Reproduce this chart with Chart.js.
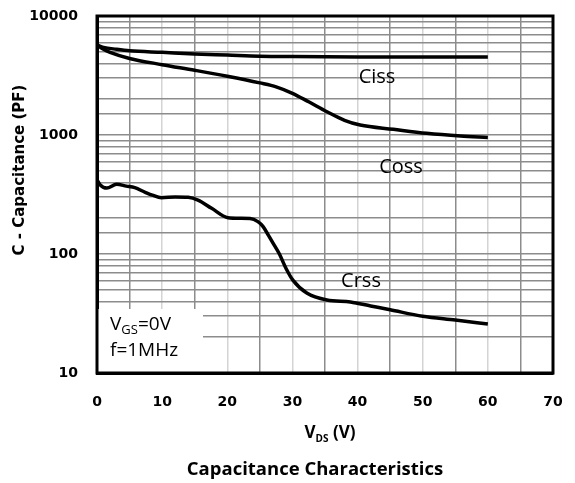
<!DOCTYPE html>
<html>
<head>
<meta charset="utf-8">
<script src="https://cdn.jsdelivr.net/npm/chart.js@4"></script>
<style>
  html, body { margin: 0; padding: 0; background: #fff; }
  #wrap { width: 575px; height: 483px; }
</style>
</head>
<body>
<div id="wrap"><canvas id="capChart" width="575" height="483"></canvas></div>
<script>
// values (VDS in V, capacitance in pF)
const cissV = [0, 1, 3, 5, 10, 15, 20, 25, 30, 35, 40, 50, 60];
const cissC = [5700, 5450, 5250, 5100, 4950, 4800, 4700, 4600, 4560, 4540, 4530, 4520, 4520];

const cossV = [0, 1, 2, 5, 10, 15, 20, 25, 27.5, 30, 32.5, 35.3, 38, 40.4, 45.5, 50.6, 55.8, 60];
const cossC = [5700, 5250, 4950, 4400, 3900, 3500, 3120, 2740, 2540, 2240, 1900, 1570, 1330, 1213, 1117, 1033, 981, 955];

const crssV = [0, 0.5, 1.5, 3, 4.5, 5.8, 7.4, 8.5, 9.9, 12, 14, 15.5, 17.6, 20.1, 22, 23.5, 24.7, 25.5, 26.3, 27, 28, 29, 30.1, 32.2, 35.3, 38.9, 42, 45, 50, 55, 60];
const crssC = [420, 380, 358, 385, 372, 361, 330, 312, 297, 302, 300, 284, 242, 202, 200, 199, 187, 170, 144, 124, 100, 76, 60, 47, 41, 39.5, 36.6, 34, 30, 27.9, 25.8];

const yLabels = [10, 100, 1000, 10000];
const xLabels = [0, 10, 20, 30, 40, 50, 60, 70];

const seriesNames = ["Ciss", "Coss", "Crss"];

function pts(xs, ys) {
  return xs.map((x, i) => ({ x: x, y: ys[i] }));
}

const tickFont = { family: "DejaVu Sans", size: 14, weight: "bold" };

// texts, white note box, outer frame
const decor = {
  id: "decor",
  beforeDatasetsDraw(chart) {
    const ctx = chart.ctx;
    const a = chart.chartArea;
    ctx.save();
    ctx.fillStyle = "#fff";
    ctx.fillRect(a.left, 309, 203 - a.left, a.bottom - 309);
    ctx.restore();
  },
  afterDraw(chart) {
    const ctx = chart.ctx;
    const a = chart.chartArea;
    ctx.save();

    // frame
    ctx.strokeStyle = "#000";
    ctx.lineWidth = 3;
    ctx.strokeRect(a.left, a.top, a.right - a.left, a.bottom - a.top);

    // curve labels
    ctx.fillStyle = "#000";
    ctx.textBaseline = "middle";
    ctx.textAlign = "center";
    ctx.font = '20px "Open Sans"';
    ctx.fillText(seriesNames[0], 377, 77);
    ctx.fillText(seriesNames[1], 401, 167);
    ctx.fillText(seriesNames[2], 361, 281);

    // note box
    ctx.textAlign = "left";
    ctx.font = '19px "Open Sans"';
    let x = 110;
    ctx.fillText("V", x, 325);
    x += ctx.measureText("V").width;
    ctx.font = '13px "Open Sans"';
    ctx.fillText("GS", x, 330);
    x += ctx.measureText("GS").width;
    ctx.font = '19px "Open Sans"';
    ctx.fillText("=0V", x, 325);
    ctx.fillText("f=1MHz", 110, 351);

    // x axis title
    ctx.font = 'bold 17px "Open Sans"';
    const w1 = ctx.measureText("V").width;
    ctx.font = 'bold 10px "Open Sans"';
    const w2 = ctx.measureText("DS").width;
    ctx.font = 'bold 17px "Open Sans"';
    const w3 = ctx.measureText(" (V)").width;
    let sx = 330 - (w1 + w2 + w3) / 2;
    ctx.fillText("V", sx, 433);
    sx += w1;
    ctx.font = 'bold 10px "Open Sans"';
    ctx.fillText("DS", sx, 439);
    sx += w2;
    ctx.font = 'bold 17px "Open Sans"';
    ctx.fillText(" (V)", sx, 433);

    // chart title
    ctx.textAlign = "center";
    ctx.font = 'bold 18.5px "Open Sans"';
    ctx.fillText("Capacitance Characteristics", 315, 470);

    // y axis title
    ctx.translate(20, 170);
    ctx.rotate(-Math.PI / 2);
    ctx.font = 'bold 15px "DejaVu Sans"';
    ctx.fillText("C - Capacitance (PF)", 0, 0);

    ctx.restore();
  }
};

const lineStyle = {
  borderColor: "#000",
  borderWidth: 3.5,
  pointRadius: 0,
  fill: false,
  cubicInterpolationMode: "monotone"
};

new Chart(document.getElementById("capChart"), {
  type: "line",
  data: {
    datasets: [
      { label: seriesNames[0], data: pts(cissV, cissC), ...lineStyle },
      { label: seriesNames[1], data: pts(cossV, cossC), ...lineStyle },
      { label: seriesNames[2], data: pts(crssV, crssC), ...lineStyle }
    ]
  },
  options: {
    responsive: false,
    animation: false,
    layout: { padding: { top: 16, right: 22, left: 0, bottom: 0 } },
    plugins: {
      legend: { display: false },
      title: { display: false },
      tooltip: { enabled: false }
    },
    scales: {
      x: {
        type: "linear",
        min: 0,
        max: 70,
        afterFit: (s) => {
          s.height = 110;
          s.paddingLeft = 0;
          s.paddingRight = 0;
        },
        border: { color: "#000", width: 3 },
        grid: {
          drawTicks: false,
          lineWidth: 1.5,
          color: (c) => (c.tick && c.tick.value % 10 === 0) ? "#d4d4d4" : "#8c8c8c"
        },
        ticks: {
          stepSize: 5,
          autoSkip: false,
          maxRotation: 0,
          padding: 21,
          color: "#000",
          font: tickFont,
          callback: (v) => xLabels.includes(v) ? String(v) : ""
        }
      },
      y: {
        type: "logarithmic",
        min: 10,
        max: 10000,
        afterFit: (s) => {
          s.width = 97;
          s.paddingTop = 0;
          s.paddingBottom = 0;
        },
        border: { color: "#000", width: 3 },
        grid: {
          drawTicks: false,
          lineWidth: 1.5,
          color: "#8c8c8c"
        },
        ticks: {
          autoSkip: false,
          padding: 19,
          color: "#000",
          font: tickFont,
          callback: (v) => yLabels.includes(v) ? String(v) : ""
        }
      }
    }
  },
  plugins: [decor]
});
</script>
</body>
</html>
